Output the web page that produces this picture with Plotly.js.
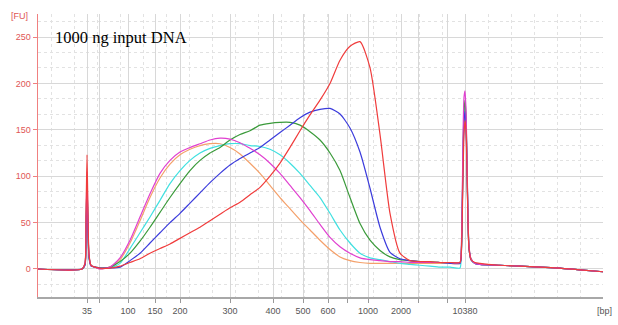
<!DOCTYPE html>
<html>
<head>
<meta charset="utf-8">
<script src="https://cdn.plot.ly/plotly-3.0.1.min.js"></script>
<style>html,body{margin:0;padding:0;background:#fff;}#chart{width:618px;height:325px;}</style>
</head>
<body>
<div id="chart"></div>
<script>
// Migration time (s) of the ladder fragments, and their size labels (bp)
const ladderTimes = [19.4, 21.8, 27.6, 33.0, 38.0, 48.0, 56.6, 62.6, 67.6, 71.4, 75.6, 82.2, 85.6, 91.4, 95.0];
const ladderLabels = ['35', '', '100', '150', '200', '300', '400', '500', '600', '', '1000', '2000', '', '', '10380'];

// Migration time (s) of the sampled points
const time = [9.6, 18.4, 19.0, 19.2, 19.4, 19.6, 19.8, 20.2, 21.0,
  22, 24, 26, 28, 30, 32, 34, 36, 38, 40, 42, 44, 46, 48, 50, 52, 54, 56, 58, 60, 62, 64, 66, 68, 70, 72, 74, 76, 78, 80, 82, 84, 86,
  88, 90, 92, 94,
  94.2, 94.4, 94.6, 94.8, 95.0, 95.2, 95.4, 95.6, 95.8, 96.2,
  97, 98, 102, 106, 110, 114, 118, 122.6];

// Fluorescence (FU) per sample
const orangeFU = [0, 0, 5, 45, 95, 45, 13, 4, 2,
  0, 2, 10, 28, 52, 77, 98, 113, 123, 129, 133, 135, 135, 131, 124, 114, 103, 90, 77, 65, 53, 42, 31, 21, 13, 9, 7, 6, 6, 6, 6, 6, 6,
  6, 6, 6, 6,
  10, 45, 118, 162, 175, 158, 110, 50, 22, 10,
  6, 5, 4, 3, 2, 1, -1, -3];
const cyanFU = [0, 0, 5, 42, 90, 45, 13, 4, 2,
  1, 1, 6, 22, 39, 56, 74, 92, 106, 117, 125, 130, 133, 135, 135, 133, 132, 129, 123, 114, 103, 90, 77, 60, 42, 28, 17, 12, 10, 8, 6, 5, 4,
  3, 2, 2, 1,
  8, 42, 120, 165, 176, 160, 112, 52, 22, 10,
  6, 5, 4, 3, 2, 1, -1, -3];
const greenFU = [0, 0, 5, 45, 95, 45, 14, 4, 2,
  1, 2, 8, 17, 30, 45, 61, 77, 92, 106, 117, 125, 131, 139, 145, 149, 155, 157, 158, 158, 155, 148, 139, 125, 106, 77, 49, 31, 20, 13, 10, 9, 8,
  8, 7, 7, 7,
  12, 50, 125, 170, 182, 165, 115, 55, 24, 11,
  6, 5, 4, 3, 2, 1, -1, -3];
const blueFU = [0, 0, 4, 35, 80, 40, 12, 3, 2,
  1, 1, 2, 9, 17, 28, 39, 50, 60, 71, 82, 93, 103, 112, 119, 125, 131, 139, 147, 155, 163, 169, 172, 173, 167, 152, 126, 87, 45, 18, 11, 9, 8,
  7, 7, 6, 6,
  10, 45, 115, 158, 170, 155, 110, 52, 22, 10,
  6, 5, 4, 3, 2, 1, -1, -3];
const magentaFU = [0, 0, 6, 50, 105, 50, 15, 4, 2,
  0, 2, 12, 31, 56, 81, 103, 117, 126, 131, 135, 139, 141, 140, 136, 130, 123, 114, 103, 90, 77, 63, 48, 34, 24, 17, 12, 10, 9, 8, 8, 7, 7,
  7, 7, 7, 7,
  14, 60, 140, 185, 192, 172, 120, 58, 25, 11,
  6, 5, 4, 3, 2, 1, -1, -3];
const redFU = [0, 0, 6, 55, 123, 60, 16, 4, 2,
  1, 1, 3, 7, 11, 17, 22, 27, 33, 39, 45, 52, 59, 66, 72, 80, 88, 100, 114, 131, 149, 166, 182, 200, 225, 240, 245, 217, 145, 60, 17, 9, 8,
  8, 7, 7, 7,
  12, 40, 100, 145, 160, 150, 105, 50, 22, 10,
  7, 6, 4, 3, 2, 1, -1, -3];

const seriesNames = ['orange', 'cyan', 'green', 'blue', 'magenta', 'red'];
const seriesValues = [orangeFU, cyanFU, greenFU, blueFU, magentaFU, redFU];
const seriesColors = ['#f4a06a', '#40e0e0', '#3a9a3a', '#3b3bdc', '#e040d0', '#f03c3c'];

const traces = seriesValues.map((v, i) => ({
  type: 'scatter', mode: 'lines', x: time, y: v, name: seriesNames[i],
  line: {color: seriesColors[i], width: 1.2, shape: 'spline', smoothing: 0.6}, hoverinfo: 'skip'
}));

const layout = {
  width: 618, height: 325,
  margin: {l: 38, r: 15, t: 14, b: 28},
  paper_bgcolor: '#ffffff', plot_bgcolor: '#ffffff',
  showlegend: false,
  xaxis: {
    range: [9.6, 122.6], tickmode: 'array', tickvals: ladderTimes, ticktext: ladderLabels,
    ticks: 'outside', ticklen: 4, tickcolor: '#999999', tickwidth: 1,
    showline: true, linecolor: '#a8a8a8', linewidth: 2,
    showgrid: true, gridcolor: '#d8d8d8', gridwidth: 1, zeroline: false,
    tickfont: {family: 'Liberation Sans, Arial, sans-serif', size: 9, color: '#555555'},
    minor: {tick0: 122.6, dtick: 4.6, showgrid: true, gridcolor: '#e2e2e2', griddash: 'dot', gridwidth: 1, ticks: ''}
  },
  yaxis: {
    range: [-30.2, 274.8], tick0: 0, dtick: 50,
    ticks: 'outside', ticklen: 4, tickcolor: '#f08080', tickwidth: 1,
    showline: true, linecolor: '#f08080', linewidth: 1.5,
    showgrid: true, gridcolor: '#d8d8d8', gridwidth: 1, zeroline: false,
    tickfont: {family: 'Liberation Sans, Arial, sans-serif', size: 9, color: '#e05555'},
    minor: {tick0: 0, dtick: 50 / 3, showgrid: true, gridcolor: '#e2e2e2', griddash: 'dot', gridwidth: 1, ticks: ''}
  },
  annotations: [
    {text: '1000 ng input DNA', xref: 'paper', yref: 'y', x: 0.0265, y: 250, xanchor: 'left', yanchor: 'middle',
     showarrow: false, font: {family: 'Liberation Serif, Times New Roman, serif', size: 16.5, color: '#000000'}},
    {text: '[FU]', xref: 'paper', yref: 'paper', x: -0.032, y: 0.993, xanchor: 'center', yanchor: 'middle',
     showarrow: false, font: {family: 'Liberation Sans, Arial, sans-serif', size: 9, color: '#e05555'}},
    {text: '[bp]', xref: 'paper', yref: 'paper', x: 1.0035, y: -0.0495, xanchor: 'center', yanchor: 'middle',
     showarrow: false, font: {family: 'Liberation Sans, Arial, sans-serif', size: 9, color: '#555555'}}
  ]
};

Plotly.newPlot('chart', traces, layout, {staticPlot: true, displayModeBar: false});
</script>
</body>
</html>
